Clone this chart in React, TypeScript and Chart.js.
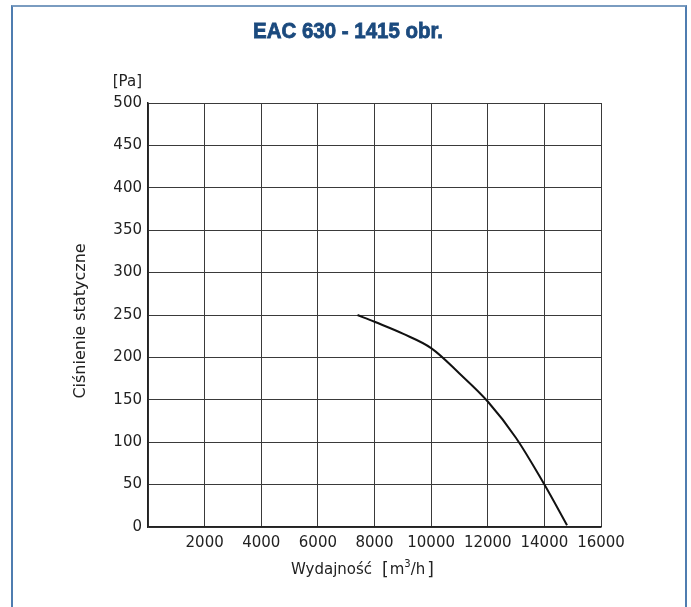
import React, { useEffect, useRef } from "react";
import { Chart, registerables } from "chart.js";

Chart.register(...registerables);

const TITLE = "EAC 630 - 1415 obr.";
const Y_TITLE = "Ciśnienie statyczne";
const Y_UNIT = "[Pa]";
const X_TITLE = "Wydajność";
const flowValues = [7400, 8000, 9000, 10000, 11000, 12000, 13000, 14000, 14800];
const pressureValues = [250, 242, 228, 211, 181, 148, 105, 50, 2];
const X_MIN = 0, X_MAX = 16000, X_STEP = 2000;
const Y_MIN = 0, Y_MAX = 500, Y_STEP = 50;

const FONT = '"DejaVu Sans", "Liberation Sans", Arial, sans-serif';

const labelsPlugin = {
  id: "labelsPlugin",
  afterDraw(chart: any) {
    const ctx = chart.ctx as CanvasRenderingContext2D;
    const area = chart.chartArea;
    ctx.save();
    // Title
    ctx.font = 'bold 22px "Liberation Sans", Arial, sans-serif';
    const w = ctx.measureText(TITLE).width;
    const sx = 190 / w;
    ctx.fillStyle = "#1b4a7e";
    ctx.strokeStyle = "#1b4a7e";
    ctx.lineWidth = 0.8;
    ctx.textAlign = "center";
    ctx.textBaseline = "alphabetic";
    ctx.translate(348, 38);
    ctx.scale(sx, 1);
    ctx.fillText(TITLE, 0, 0);
    ctx.strokeText(TITLE, 0, 0);
    ctx.restore();

    ctx.save();
    ctx.fillStyle = "#222";
    ctx.font = "15px " + FONT;
    ctx.textAlign = "right";
    ctx.textBaseline = "alphabetic";
    ctx.fillText(Y_UNIT, area.left - 6, 86);

    // Y title
    ctx.save();
    ctx.font = "16px " + FONT;
    ctx.textAlign = "center";
    ctx.translate(85, 321);
    ctx.rotate(-Math.PI / 2);
    ctx.fillText(Y_TITLE, 0, 0);
    ctx.restore();

    // X title
    ctx.textAlign = "left";
    ctx.font = "15px " + FONT;
    let x = 291;
    const base = 574;
    ctx.fillText(X_TITLE, x, base);
    x += ctx.measureText(X_TITLE).width + 10;
    ctx.font = "17px " + FONT;
    ctx.fillText("[", x, base + 1);
    x += ctx.measureText("[").width + 1;
    ctx.font = "15px " + FONT;
    ctx.fillText("m", x, base);
    x += ctx.measureText("m").width;
    ctx.font = "10px " + FONT;
    ctx.fillText("3", x, base - 7);
    x += ctx.measureText("3").width;
    ctx.font = "15px " + FONT;
    ctx.fillText("/h", x, base);
    x += ctx.measureText("/h").width + 2;
    ctx.font = "17px " + FONT;
    ctx.fillText("]", x, base + 1);
    ctx.restore();
  },
};

export default function App() {
  const ref = useRef<HTMLCanvasElement | null>(null);
  useEffect(() => {
    if (!ref.current) return;
    const chart = new Chart(ref.current, {
      type: "line",
      data: {
        datasets: [
          {
            data: flowValues.map((v, i) => ({ x: v, y: pressureValues[i] })),
            borderColor: "#111",
            borderWidth: 2,
            pointRadius: 0,
            tension: 0.35,
            fill: false,
          },
        ],
      },
      options: {
        animation: false,
        responsive: false,
        maintainAspectRatio: false,
        layout: { padding: { top: 103, right: 90, left: 0, bottom: 0 } },
        plugins: { legend: { display: false }, tooltip: { enabled: false }, title: { display: false } },
        scales: {
          x: {
            type: "linear",
            min: X_MIN,
            max: X_MAX,
            afterFit: (s: any) => { s.height = 80; },
            ticks: {
              stepSize: X_STEP,
              color: "#222",
              font: { family: FONT, size: 15 },
              padding: 7,
              maxRotation: 0,
              autoSkip: false,
              callback: (v: any) => (v === 0 ? "" : String(v)),
            },
            grid: { color: "#3a3a3a", lineWidth: 1, drawTicks: false },
            border: { color: "#222", width: 1.5 },
          },
          y: {
            type: "linear",
            min: Y_MIN,
            max: Y_MAX,
            afterFit: (s: any) => { s.width = 148; },
            ticks: {
              stepSize: Y_STEP,
              color: "#222",
              font: { family: FONT, size: 15 },
              padding: 6,
              autoSkip: false,
            },
            grid: { color: "#3a3a3a", lineWidth: 1, drawTicks: false },
            border: { color: "#222", width: 1.5 },
          },
        },
      },
      plugins: [labelsPlugin],
    } as any);
    return () => chart.destroy();
  }, []);

  return (
    <div style={{ position: "fixed", left: 0, top: 0, width: 691, height: 607, background: "#fff", overflow: "hidden" }}>
      <div
        style={{
          position: "absolute",
          left: 11,
          top: 5,
          width: 672,
          height: 620,
          borderLeft: "2px solid #4f7db0",
          borderTop: "2px solid #7a9cc0",
          borderRight: "2px solid #4f7db0",
        }}
      />
      <canvas ref={ref} width={691} height={607} style={{ position: "absolute", left: 0, top: 0 }} />
    </div>
  );
}
